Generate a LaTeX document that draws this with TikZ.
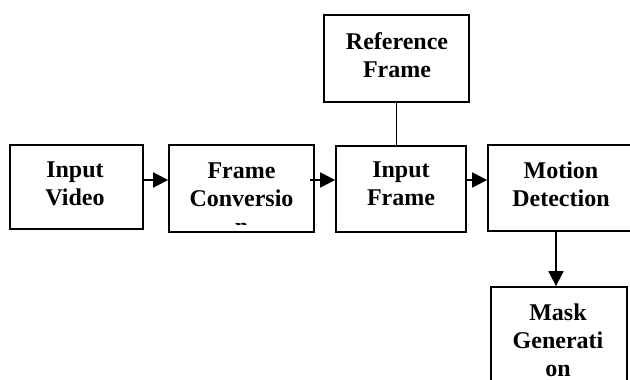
\documentclass[tikz,border=0pt]{standalone}
\usepackage{fontspec}
\setmainfont{Liberation Serif}
\usetikzlibrary{arrows.meta}
\tikzset{
  blk/.style={draw, line width=1.8pt, inner sep=0pt, minimum width=#1, anchor=center},
  lbl/.style={inner sep=0pt, align=center, anchor=north, font=\fontsize{24}{28}\selectfont\bfseries},
  arr/.style={line width=1.8pt, -{Triangle[length=15pt,width=15pt]}},
  lnk/.style={line width=1.8pt}
}
\begin{document}
\begin{tikzpicture}[x=1pt,y=-1pt]
\useasboundingbox (0,0) rectangle (630,380);
\clip (0,0) rectangle (630,380);
% boxes
\node[blk=133pt, minimum height=84pt] (vid) at (76.5,187) {};
\node[blk=145pt, minimum height=87pt] (fc) at (241.5,188.5) {};
\node[blk=145pt, minimum height=87pt] (ref) at (396.5,58.5) {};
\node[blk=130pt, minimum height=86pt] (inf) at (401,189) {};
\node[blk=146pt, minimum height=86pt] (md) at (561,188) {};
\node[blk=136pt, minimum height=120pt] (mask) at (559,347) {};
% labels
\node[lbl] (tvid) at (75,161.5) {Input\\Video};
\begin{scope}
\clip (169,145) rectangle (314,224);
\node[lbl] (tfc) at (241.5,162.5) {Frame\\Conversio\\n};
\end{scope}
\node[lbl] (tref) at (397,32.5) {Reference\\Frame};
\node[lbl] (tinf) at (401,161.5) {Input\\Frame};
\node[lbl] (tmd) at (561,161.5) {Motion\\Detection};
\begin{scope}
\clip (491,287) rectangle (627,376);
\node[lbl] (tmask) at (558,303.5) {Mask\\Generati\\on};
\end{scope}
% connectors
\draw[arr] ([yshift=7pt]vid.east) -- ([yshift=7pt]vid.east -| fc.west);
\draw[arr] ([xshift=-5pt,yshift=8.5pt]fc.east) -- ([yshift=8.5pt]fc.east -| inf.west);
\draw[arr] ([yshift=9pt]inf.east) -- ([yshift=9pt]inf.east -| md.west);
\draw[arr] ([xshift=-5pt]md.south) -- ([xshift=-5pt]md.south |- mask.north);
\draw[lnk] (ref.south) -- (ref.south |- inf.north);
\end{tikzpicture}
\end{document}
